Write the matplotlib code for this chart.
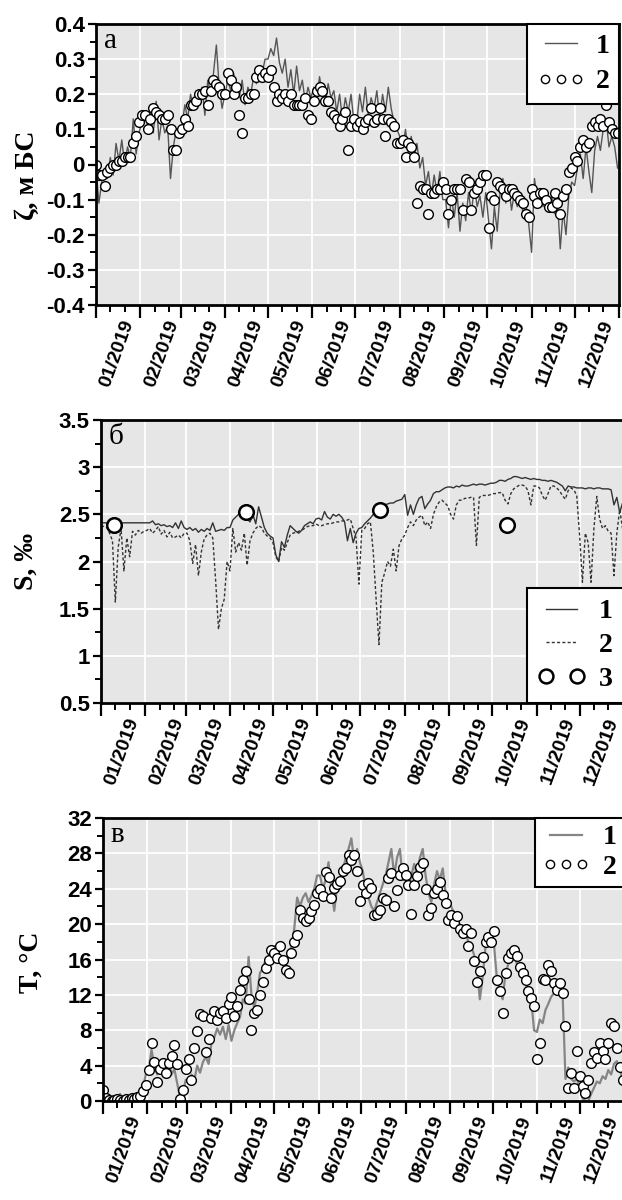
import matplotlib
matplotlib.use("Agg")
import matplotlib.pyplot as plt
import matplotlib.dates as mdates
import matplotlib.ticker as mticker
import matplotlib.transforms as mtransforms
import pandas as pd

plt.rcParams['axes.unicode_minus'] = False
plt.rcParams['font.family'] = ['Liberation Sans', 'DejaVu Sans']
plt.rcParams['font.weight'] = 'bold'
SERIF = ['Liberation Serif', 'DejaVu Serif']

# every second day of 2019 (Jan 1 ... Dec 31), 183 samples
DATES = pd.date_range('2019-01-01', periods=183, freq='2D')
MONTH_LABELS = ['01/2019', '02/2019', '03/2019', '04/2019', '05/2019', '06/2019',
                '07/2019', '08/2019', '09/2019', '10/2019', '11/2019', '12/2019']

# panel a: sea level, m BS
zeta_model = [
    -0.01, -0.11, -0.05, -0.02, -0.04, 0.02, -0.03, 0.06, 0.01, 0.07, 0.0, 0.05, 0.02, 0.13, 0.03, 0.09,  # jan
    0.12, 0.15, 0.11, 0.14, 0.09, 0.18, 0.07, 0.13, 0.09, 0.11, -0.04, 0.05, 0.1, 0.08,  # feb
    0.11, 0.17, 0.13, 0.2, 0.16, 0.21, 0.18, 0.22, 0.14, 0.24, 0.2, 0.26, 0.34, 0.22, 0.16,  # mar
    0.2, 0.24, 0.21, 0.26, 0.22, 0.19, 0.24, 0.17, 0.22, 0.2, 0.25, 0.23, 0.28, 0.26, 0.3,  # apr
    0.3, 0.33, 0.31, 0.36, 0.29, 0.26, 0.3, 0.22, 0.27, 0.2, 0.28, 0.21, 0.24, 0.18, 0.22, 0.19,  # may
    0.22, 0.18, 0.25, 0.2, 0.17, 0.23, 0.19, 0.21, 0.15, 0.2, 0.13, 0.19, 0.15, 0.2, 0.12,  # jun
    0.12, 0.2, 0.15, 0.22, 0.14, 0.19, 0.16, 0.21, 0.13, 0.2, 0.15, 0.22, 0.16, 0.12, 0.1,  # jul
    0.08, 0.05, 0.1, 0.03, 0.08, 0.02, 0.06, -0.01, 0.02, -0.06, -0.02, -0.09, -0.03, -0.08, -0.02, -0.1,  # aug
    -0.1, -0.18, -0.09, -0.15, -0.08, -0.19, -0.11, -0.16, -0.08, -0.14, -0.06, -0.12, -0.09, -0.15, -0.08,  # sep
    -0.16, -0.24, -0.12, -0.19, -0.08, -0.04, -0.11, -0.06, -0.13, -0.08, -0.12, -0.09, -0.14, -0.11, -0.17,  # oct
    -0.25, -0.04, -0.1, -0.07, -0.12, -0.08, -0.13, -0.09, -0.14, -0.1, -0.24, -0.13, -0.2, -0.09, -0.05,  # nov
    -0.06, -0.01, 0.03, -0.04, 0.05, -0.02, -0.08, 0.04, 0.08, 0.04, 0.1, 0.13, 0.05, 0.08, 0.05, -0.01,  # dec
]
zeta_obs = [
    0.0, -0.03, -0.03, -0.06, -0.02, -0.01, 0.0, 0.0, 0.01, 0.01, 0.02, 0.02, 0.02, 0.06, 0.08, 0.12,
    0.14, 0.14, 0.1, 0.13, 0.16, 0.15, 0.14, 0.13, 0.13, 0.14, 0.1, 0.04, 0.04, 0.09,
    0.1, 0.13, 0.11, 0.17, 0.17, 0.18, 0.2, 0.2, 0.21, 0.17, 0.21, 0.24, 0.23, 0.22, 0.2,
    0.2, 0.26, 0.24, 0.2, 0.22, 0.14, 0.09, 0.19, 0.19, 0.2, 0.2, 0.25, 0.27, 0.25, 0.26,
    0.25, 0.27, 0.22, 0.18, 0.2, 0.19, 0.2, 0.18, 0.2, 0.17, 0.17, 0.17, 0.17, 0.19, 0.14, 0.13,
    0.18, 0.21, 0.22, 0.21, 0.18, 0.18, 0.15, 0.14, 0.13, 0.11, 0.13, 0.15, 0.04, 0.11, 0.13,
    0.11, 0.12, 0.1, 0.12, 0.13, 0.16, 0.12, 0.13, 0.16, 0.13, 0.08, 0.13, 0.12, 0.11, 0.06,
    0.06, 0.07, 0.02, 0.06, 0.05, 0.02, -0.11, -0.06, -0.07, -0.07, -0.14, -0.08, -0.08, -0.07, -0.07, -0.05,
    -0.07, -0.14, -0.1, -0.07, -0.07, -0.07, -0.13, -0.04, -0.05, -0.13, -0.08, -0.07, -0.05, -0.03, -0.03,
    -0.18, -0.09, -0.1, -0.05, -0.06, -0.07, -0.09, -0.07, -0.07, -0.08, -0.09, -0.1, -0.11, -0.14, -0.15,
    -0.07, -0.09, -0.11, -0.08, -0.08, -0.1, -0.12, -0.12, -0.08, -0.11, -0.14, -0.09, -0.07, -0.02, -0.01,
    0.02, 0.01, 0.05, 0.07, 0.05, 0.06, 0.11, 0.12, 0.11, 0.13, 0.11, 0.17, 0.12, 0.1, 0.09, 0.09,
]

# panel b: salinity, per mille
sal_1 = [
    2.41, 2.41, 2.41, 2.41, 2.41, 2.41, 2.41, 2.41, 2.41, 2.41, 2.41, 2.41, 2.41, 2.41, 2.41, 2.41,
    2.41, 2.41, 2.43, 2.39, 2.4, 2.38, 2.39, 2.37, 2.38, 2.36, 2.41, 2.35, 2.43, 2.36,
    2.34, 2.36, 2.33, 2.35, 2.31, 2.34, 2.32, 2.35, 2.33, 2.41, 2.32, 2.33, 2.34, 2.33, 2.36,
    2.36, 2.44, 2.47, 2.5, 2.5, 2.48, 2.45, 2.42, 2.5, 2.4, 2.58, 2.47, 2.36, 2.3, 2.27,
    2.25, 2.07, 2.0, 2.21, 2.15, 2.28, 2.38, 2.35, 2.32, 2.3, 2.33, 2.38, 2.4, 2.42, 2.4, 2.45,
    2.46, 2.44, 2.53, 2.47, 2.45, 2.5, 2.48, 2.5, 2.47, 2.42, 2.22, 2.35, 2.2, 2.3, 2.35,
    2.36, 2.4, 2.43, 2.46, 2.5, 2.52, 2.55, 2.58, 2.6, 2.61, 2.62, 2.62, 2.64, 2.65, 2.66,
    2.71, 2.49, 2.6, 2.5, 2.6, 2.67, 2.69, 2.56, 2.61, 2.65, 2.72, 2.74, 2.74, 2.76, 2.78, 2.79,
    2.79, 2.78, 2.8, 2.79, 2.81, 2.8, 2.8, 2.81, 2.82, 2.81, 2.82, 2.82, 2.81, 2.82, 2.83,
    2.83, 2.84, 2.86, 2.86, 2.85, 2.87, 2.88, 2.9, 2.9, 2.89, 2.88, 2.89, 2.88, 2.87, 2.88,
    2.87, 2.87, 2.86, 2.86, 2.85, 2.86, 2.85, 2.84, 2.82, 2.8, 2.75, 2.8, 2.79, 2.79, 2.78,
    2.78, 2.78, 2.77, 2.78, 2.78, 2.77, 2.78, 2.78, 2.77, 2.77, 2.77, 2.76, 2.6, 2.68, 2.52, 2.62,
]
sal_2 = [
    2.38, 2.37, 2.36, 2.3, 2.22, 1.57, 2.15, 2.35, 1.9, 2.25, 2.05, 2.32, 2.28, 2.33, 2.3, 2.32,
    2.33, 2.35, 2.3, 2.33, 2.37, 2.29, 2.33, 2.26, 2.31, 2.25, 2.26, 2.28, 2.25, 2.3,
    2.3, 2.22, 1.98, 2.18, 1.85, 2.1, 2.24, 2.28, 2.3, 2.25, 1.8, 1.28, 1.5, 1.6, 2.0,
    1.9, 2.35, 2.1, 2.2, 2.12, 2.3, 1.96, 2.22, 2.3, 2.35, 2.38, 2.36, 2.3, 2.27, 2.25,
    2.2, 2.05, 2.0, 2.15, 2.12, 2.2, 2.28, 2.3, 2.31, 2.32, 2.33, 2.35, 2.37, 2.38, 2.38, 2.4,
    2.38, 2.38, 2.39, 2.4, 2.4, 2.41, 2.42, 2.42, 2.43, 2.43, 2.44, 2.45, 2.35, 2.25, 1.76,
    2.33, 2.35, 2.4, 2.42, 2.1, 1.6, 1.12, 1.78, 1.88, 2.0, 1.95, 2.13, 1.9, 2.17, 2.24,
    2.28, 2.36, 2.42, 2.38, 2.44, 2.47, 2.49, 2.38, 2.42, 2.35, 2.5, 2.58, 2.63, 2.65, 2.62, 2.59,
    2.5, 2.45, 2.6, 2.65, 2.65, 2.67, 2.67, 2.68, 2.68, 2.17, 2.68, 2.7, 2.7, 2.7, 2.71,
    2.72, 2.72, 2.73, 2.73, 2.65, 2.61, 2.72, 2.77, 2.79, 2.81, 2.81, 2.8, 2.75, 2.6, 2.8,
    2.8, 2.78, 2.7, 2.65, 2.72, 2.8, 2.8, 2.78, 2.75, 2.7, 2.66, 2.75, 2.78, 2.76, 2.7,
    2.28, 1.78, 2.3, 2.2, 1.78, 2.35, 2.69, 2.45, 2.35, 2.38, 2.32, 2.3, 1.85, 2.3, 2.55, 2.35,
]
sal_obs_dates = ['2019-01-10', '2019-04-12', '2019-07-15', '2019-10-11']
sal_obs = [2.39, 2.53, 2.55, 2.39]

# panel c: water temperature, deg C
temp_model = [
    0.3, 0.1, 0.2, 0.0, 0.3, 0.1, 0.8, 0.2, 0.1, 0.3, 0.2, 0.4, 0.3, 0.6, 1.5, 3.0,
    3.5, 5.8, 4.0, 3.0, 4.2, 3.2, 3.8, 4.6, 3.0, 3.6, 2.0, 0.3, 1.0, 2.4,
    2.0, 3.0, 2.4, 4.0, 3.2, 4.4, 5.0, 4.2, 6.6, 7.2, 8.2, 7.5, 8.4, 7.0, 8.6,
    6.8, 8.0, 8.8, 9.5, 11.5, 11.0, 16.3, 12.0, 10.5, 12.2, 14.5, 15.0, 16.0, 16.3, 17.0,
    17.5, 17.0, 16.0, 16.3, 15.5, 16.2, 17.5, 19.5, 23.0, 22.0, 23.0, 23.5, 22.5, 23.2, 24.0, 25.5,
    25.5, 24.0, 25.0, 27.0, 24.0, 21.5, 24.2, 25.0, 26.0, 27.5, 28.5, 29.7, 27.0, 28.5, 27.0,
    26.0, 24.0, 23.0, 22.0, 21.5, 22.5, 23.5, 24.5, 25.5, 27.0, 28.5, 25.5, 27.5, 28.5, 25.0,
    25.0, 24.2, 25.5, 26.8, 25.5, 27.5, 28.5, 25.5, 23.5, 22.5, 24.5, 26.0, 25.0, 26.3, 23.5, 22.5,
    22.0, 21.2, 20.5, 20.0, 19.5, 19.0, 18.0, 17.5, 16.5, 15.0, 11.5, 14.0, 17.5, 18.5, 18.0,
    17.5, 13.8, 12.5, 11.5, 14.5, 15.5, 16.2, 16.5, 15.5, 15.0, 14.0, 13.2, 12.5, 11.5, 8.0,
    7.8, 9.2, 8.8, 10.3, 11.0, 11.8, 12.2, 13.0, 12.6, 12.0, 2.5, 3.8, 2.5, 2.2, 2.5,
    1.5, 0.3, 0.0, 0.0, 0.8, 1.5, 2.2, 2.0, 2.8, 2.5, 3.5, 3.0, 4.2, 4.5, 3.5, 2.5,
]
temp_obs = [
    1.3, 0.3, 0.1, 0.0, 0.1, 0.2, 0.1, 0.0, 0.2, 0.1, 0.3, 0.2, 0.4, 0.6, 1.1, 1.8,
    3.5, 6.6, 4.4, 2.2, 3.6, 4.3, 3.2, 4.3, 5.1, 6.3, 4.2, 0.2, 1.3, 3.6,
    4.7, 2.4, 6.0, 7.9, 9.8, 9.6, 5.5, 7.0, 9.4, 10.2, 9.2, 10.0, 10.2, 9.4, 11.0,
    11.8, 9.6, 10.7, 12.6, 13.7, 14.7, 11.5, 8.0, 10.0, 10.3, 12.0, 13.5, 15.0, 16.0, 17.1,
    16.7, 16.2, 17.5, 16.0, 14.8, 14.5, 16.7, 18.0, 18.8, 21.6, 20.7, 20.3, 20.7, 21.5, 22.2, 23.5,
    24.0, 23.2, 25.9, 25.3, 23.0, 24.1, 24.5, 24.9, 26.0, 26.3, 27.8, 27.2, 27.8, 26.0, 22.6,
    24.4, 23.5, 24.6, 24.1, 21.0, 21.2, 21.6, 22.9, 22.7, 25.2, 25.8, 22.0, 23.9, 25.6, 26.4,
    25.6, 24.4, 21.2, 24.4, 25.4, 26.5, 26.9, 24.0, 21.0, 21.8, 23.5, 24.0, 24.8, 23.3, 22.4, 20.5,
    21.0, 20.1, 20.9, 19.5, 19.0, 19.4, 17.5, 19.0, 15.8, 13.5, 14.7, 16.3, 18.0, 18.6, 18.0,
    19.2, 13.7, 12.4, 10.0, 14.5, 16.2, 16.7, 17.1, 16.4, 15.2, 14.5, 13.7, 12.4, 11.7, 10.7,
    4.7, 6.6, 13.8, 13.7, 15.4, 14.7, 13.3, 12.5, 13.3, 12.2, 8.5, 1.5, 3.2, 1.5, 5.6,
    2.8, 1.7, 0.9, 2.4, 4.3, 5.5, 4.9, 6.6, 5.6, 4.7, 6.6, 8.8, 8.5, 6.0, 3.9, 2.4,
]

LEG_FONT = {'family': SERIF, 'weight': 'bold', 'size': 20}


def style_axis(ax, ylim, ystep, yminor, letter):
    ax.set_facecolor('#e6e6e6')
    ax.set_xlim(pd.Timestamp('2019-01-01'), pd.Timestamp('2020-01-01'))
    ax.set_ylim(*ylim)
    ax.yaxis.set_major_locator(mticker.MultipleLocator(ystep))
    ax.yaxis.set_minor_locator(mticker.MultipleLocator(yminor))
    ax.yaxis.set_major_formatter(mticker.FormatStrFormatter('%g'))
    ax.xaxis.set_major_locator(mdates.MonthLocator())
    ax.xaxis.set_minor_locator(mdates.DayLocator(bymonthday=[11, 21]))
    ax.xaxis.set_major_formatter(mticker.NullFormatter())
    ax.grid(True, which='major', color='white', lw=1.3)
    ax.set_axisbelow(True)
    for s in ax.spines.values():
        s.set_linewidth(2)
    ax.tick_params(axis='both', which='major', direction='out', width=1.6, color='black')
    ax.tick_params(axis='x', which='major', length=9)
    ax.tick_params(axis='x', which='minor', length=5, width=1.4)
    ax.tick_params(axis='y', which='major', length=6, labelsize=16, pad=2)
    ax.tick_params(axis='y', which='minor', length=4, width=1.4)

    trans = mtransforms.blended_transform_factory(ax.transData, ax.transAxes)
    for m, lab in enumerate(MONTH_LABELS):
        mid = mdates.date2num(pd.Timestamp(2019, m + 1, 16))
        ax.text(mid, -0.045, lab, transform=trans, rotation=70, ha='center', va='top',
                fontsize=14, fontweight='bold', clip_on=False)
    ax.text(0.015, 0.985, letter, transform=ax.transAxes, ha='left', va='top',
            fontsize=21, fontweight='normal', family=SERIF)


def boxed(leg):
    fr = leg.get_frame()
    fr.set_edgecolor('black')
    fr.set_linewidth(1.5)
    fr.set_facecolor('white')
    fr.set_alpha(1)


fig = plt.figure(figsize=(6.22, 12), dpi=100)

# --- panel a ---
ax1 = fig.add_axes([96 / 622, 1 - 305 / 1200, 523 / 622, 281 / 1200])
style_axis(ax1, (-0.4, 0.4), 0.1, 0.05, 'а')
ax1.plot(DATES, zeta_model, color='#555555', lw=1.0, label='1')
ax1.plot(DATES, zeta_obs, ls='none', marker='o', ms=7, mfc='white', mec='black', mew=1.0, label='2')
ax1.set_ylabel('ζ, м БС', family=SERIF, fontsize=20, fontweight='bold')
ax1.yaxis.set_label_coords(-0.107, 0.46)
leg = ax1.legend(loc='upper right', numpoints=3, markerscale=0.85, handlelength=1.75, prop=LEG_FONT,
                 fancybox=False, borderaxespad=0, handletextpad=0.35, borderpad=0.35, labelspacing=0.35)
boxed(leg)

# --- panel b ---
ax2 = fig.add_axes([101 / 622, 1 - 703 / 1200, 523 / 622, 283 / 1200])
style_axis(ax2, (0.5, 3.5), 0.5, 0.25, 'б')
ax2.plot(DATES, sal_1, color='#333333', lw=1.0, label='1')
ax2.plot(DATES, sal_2, color='#333333', lw=1.0, ls=(0, (2.2, 1.6)), label='2')
ax2.plot(pd.to_datetime(sal_obs_dates), sal_obs, ls='none', marker='o', ms=10.5, mfc='white',
         mec='black', mew=1.8, label='3')
ax2.set_ylabel('S, ‰', family=SERIF, fontsize=20, fontweight='bold')
ax2.yaxis.set_label_coords(-0.12, 0.5)
leg = ax2.legend(loc='lower right', numpoints=2, markerscale=0.95, handlelength=1.7, prop=LEG_FONT,
                 fancybox=False, borderaxespad=0, handletextpad=0.5, borderpad=0.4, labelspacing=0.3)
boxed(leg)

# --- panel c ---
ax3 = fig.add_axes([103 / 622, 1 - 1101 / 1200, 521 / 622, 283 / 1200])
style_axis(ax3, (0, 32), 4, 2, 'в')
ax3.plot(DATES, temp_model, color='#858585', lw=1.6, label='1')
ax3.plot(DATES, temp_obs, ls='none', marker='o', ms=7, mfc='white', mec='black', mew=1.0, label='2')
ax3.set_ylabel('T, °C', family=SERIF, fontsize=20, fontweight='bold')
ax3.yaxis.set_label_coords(-0.113, 0.49)
leg = ax3.legend(loc='upper right', numpoints=3, markerscale=0.85, handlelength=1.75, prop=LEG_FONT,
                 fancybox=False, borderaxespad=0, handletextpad=0.45, borderpad=0.25, labelspacing=0.15)
boxed(leg)

fig.savefig('out.png', dpi=100)
